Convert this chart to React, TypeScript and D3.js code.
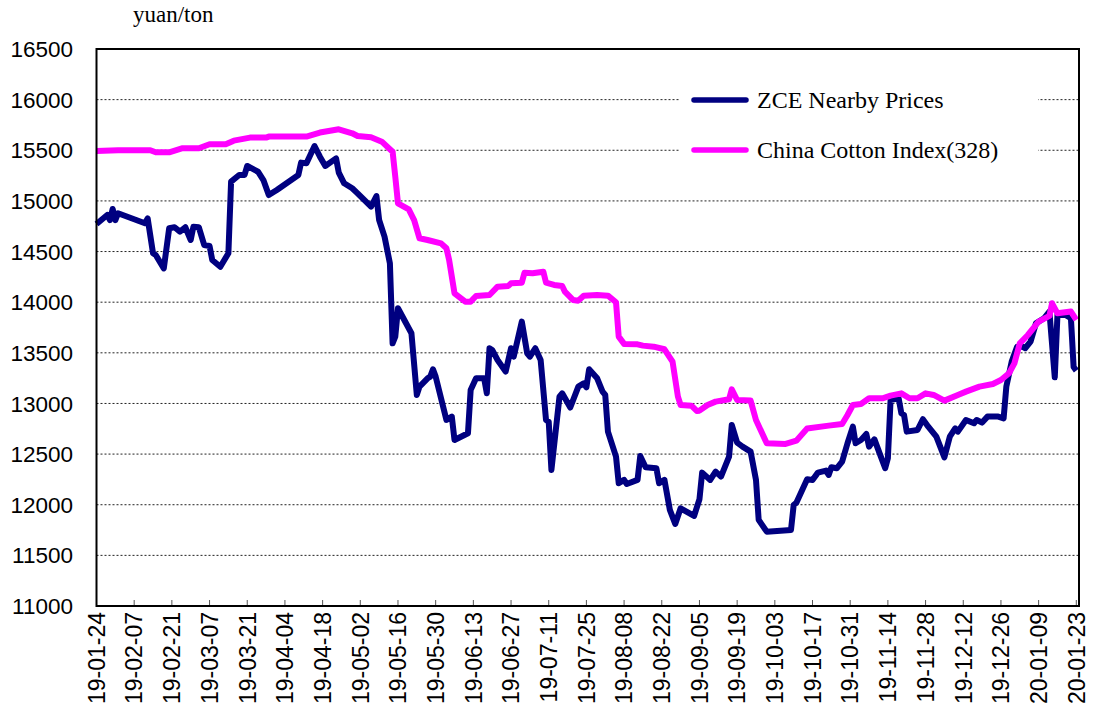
import React, { useEffect, useRef } from 'react';
import * as d3 from 'd3';

// ZCE nearby contract prices (yuan/ton)
const zceDates = [
  '2019-01-24', '2019-01-28', '2019-01-29', '2019-01-30', '2019-01-31', '2019-02-01', '2019-02-11', '2019-02-12',
  '2019-02-14', '2019-02-15', '2019-02-18', '2019-02-20', '2019-02-22', '2019-02-24', '2019-02-26', '2019-02-28',
  '2019-03-01', '2019-03-03', '2019-03-05', '2019-03-07', '2019-03-08', '2019-03-11', '2019-03-14', '2019-03-15',
  '2019-03-18', '2019-03-20', '2019-03-21', '2019-03-25', '2019-03-27', '2019-03-29', '2019-04-01', '2019-04-09',
  '2019-04-10', '2019-04-12', '2019-04-15', '2019-04-17', '2019-04-19', '2019-04-23', '2019-04-24', '2019-04-26',
  '2019-04-29', '2019-05-01', '2019-05-06', '2019-05-08', '2019-05-09', '2019-05-11', '2019-05-13', '2019-05-14',
  '2019-05-15', '2019-05-16', '2019-05-19', '2019-05-21', '2019-05-23', '2019-05-24', '2019-05-27', '2019-05-28',
  '2019-05-29', '2019-05-30', '2019-06-03', '2019-06-05', '2019-06-06', '2019-06-11', '2019-06-12', '2019-06-14',
  '2019-06-17', '2019-06-18', '2019-06-19', '2019-06-20', '2019-06-22', '2019-06-25', '2019-06-27', '2019-06-28',
  '2019-07-01', '2019-07-03', '2019-07-04', '2019-07-06', '2019-07-08', '2019-07-10', '2019-07-11', '2019-07-12',
  '2019-07-15', '2019-07-16', '2019-07-19', '2019-07-22', '2019-07-24', '2019-07-25', '2019-07-26', '2019-07-29',
  '2019-07-31', '2019-08-01', '2019-08-02', '2019-08-05', '2019-08-06', '2019-08-08', '2019-08-09', '2019-08-13',
  '2019-08-14', '2019-08-16', '2019-08-20', '2019-08-21', '2019-08-23', '2019-08-25', '2019-08-27', '2019-08-29',
  '2019-09-03', '2019-09-05', '2019-09-06', '2019-09-09', '2019-09-11', '2019-09-13', '2019-09-16', '2019-09-17',
  '2019-09-19', '2019-09-21', '2019-09-24', '2019-09-26', '2019-09-27', '2019-09-30', '2019-10-09', '2019-10-10',
  '2019-10-11', '2019-10-15', '2019-10-17', '2019-10-19', '2019-10-22', '2019-10-23', '2019-10-24', '2019-10-26',
  '2019-10-28', '2019-10-30', '2019-11-01', '2019-11-02', '2019-11-04', '2019-11-06', '2019-11-07', '2019-11-09',
  '2019-11-10', '2019-11-13', '2019-11-14', '2019-11-15', '2019-11-18', '2019-11-19', '2019-11-20', '2019-11-21',
  '2019-11-25', '2019-11-27', '2019-11-29', '2019-12-02', '2019-12-05', '2019-12-07', '2019-12-09', '2019-12-10',
  '2019-12-13', '2019-12-16', '2019-12-17', '2019-12-19', '2019-12-21', '2019-12-25', '2019-12-27', '2019-12-28',
  '2019-12-30', '2020-01-01', '2020-01-03', '2020-01-04', '2020-01-06', '2020-01-08', '2020-01-11', '2020-01-13',
  '2020-01-15', '2020-01-16', '2020-01-19', '2020-01-21', '2020-01-22', '2020-01-23',
];
const zcePrices = [
  14772, 14861, 14810, 14920, 14810, 14878, 14779, 14828,
  14483, 14466, 14334, 14730, 14740, 14697, 14740, 14614,
  14745, 14740, 14565, 14555, 14417, 14350, 14483, 15190,
  15256, 15256, 15345, 15288, 15206, 15058, 15108, 15256,
  15378, 15371, 15542, 15437, 15345, 15420, 15280, 15174,
  15125, 15075, 14943, 15048, 14811, 14647, 14384, 13594,
  13660, 13940, 13792, 13693, 13084, 13166, 13248, 13265,
  13337, 13265, 12837, 12870, 12639, 12706, 13133, 13248,
  13248, 13100, 13545, 13528, 13429, 13314, 13545, 13462,
  13808, 13495, 13462, 13545, 13429, 12837, 12820, 12344,
  13067, 13100, 12960, 13166, 13199, 13160, 13337, 13248,
  13117, 13084, 12722, 12475, 12212, 12245, 12205, 12245,
  12481, 12370, 12360, 12212, 12245, 11949, 11810, 11965,
  11889, 12054, 12317, 12245, 12327, 12278, 12475, 12788,
  12613, 12574, 12524, 12245, 11850, 11734, 11750, 11997,
  12020, 12251, 12245, 12317, 12337, 12294, 12370, 12360,
  12426, 12607, 12771, 12607, 12639, 12698, 12574, 12646,
  12574, 12360, 12459, 13034, 13051, 12903, 12886, 12722,
  12738, 12844, 12771, 12672, 12468, 12672, 12754, 12722,
  12837, 12804, 12837, 12811, 12870, 12870, 12853, 13166,
  13413, 13561, 13561, 13545, 13610, 13791, 13841, 13907,
  13258, 13874, 13874, 13841, 13360, 13324,
];

// China Cotton Index (328), yuan/ton
const cciDates = [
  '2019-01-24', '2019-02-01', '2019-02-13', '2019-02-15', '2019-02-20', '2019-02-25', '2019-03-03', '2019-03-07',
  '2019-03-13', '2019-03-16', '2019-03-22', '2019-03-28', '2019-03-29', '2019-04-12', '2019-04-17', '2019-04-24',
  '2019-04-29', '2019-05-01', '2019-05-06', '2019-05-10', '2019-05-14', '2019-05-15', '2019-05-16', '2019-05-20',
  '2019-05-22', '2019-05-24', '2019-05-27', '2019-06-01', '2019-06-03', '2019-06-04', '2019-06-06', '2019-06-10',
  '2019-06-12', '2019-06-14', '2019-06-19', '2019-06-22', '2019-06-26', '2019-06-27', '2019-07-01', '2019-07-02',
  '2019-07-05', '2019-07-09', '2019-07-10', '2019-07-13', '2019-07-16', '2019-07-17', '2019-07-20', '2019-07-22',
  '2019-07-24', '2019-07-29', '2019-08-02', '2019-08-05', '2019-08-06', '2019-08-08', '2019-08-13', '2019-08-15',
  '2019-08-19', '2019-08-23', '2019-08-26', '2019-08-28', '2019-08-29', '2019-09-02', '2019-09-04', '2019-09-05',
  '2019-09-08', '2019-09-11', '2019-09-16', '2019-09-17', '2019-09-19', '2019-09-24', '2019-09-26', '2019-09-30',
  '2019-10-07', '2019-10-11', '2019-10-15', '2019-10-23', '2019-10-28', '2019-10-30', '2019-11-01', '2019-11-04',
  '2019-11-07', '2019-11-12', '2019-11-15', '2019-11-19', '2019-11-22', '2019-11-25', '2019-11-28', '2019-12-01',
  '2019-12-05', '2019-12-10', '2019-12-13', '2019-12-18', '2019-12-23', '2019-12-26', '2019-12-29', '2019-12-31',
  '2020-01-02', '2020-01-05', '2020-01-09', '2020-01-13', '2020-01-14', '2020-01-16', '2020-01-21', '2020-01-23',
];
const cciPrices = [
  15493, 15500, 15500, 15480, 15480, 15520, 15520, 15560,
  15560, 15595, 15625, 15625, 15635, 15635, 15675, 15707,
  15668, 15641, 15628, 15585, 15486, 15239, 14976, 14917,
  14811, 14631, 14614, 14581, 14532, 14417, 14088, 14005,
  14005, 14061, 14071, 14153, 14160, 14186, 14193, 14291,
  14285, 14301, 14193, 14170, 14160, 14104, 14022, 14015,
  14064, 14071, 14064, 13999, 13660, 13588, 13584, 13571,
  13561, 13535, 13413, 13067, 12985, 12978, 12926, 12929,
  12985, 13018, 13041, 13140, 13034, 13028, 12837, 12607,
  12600, 12632, 12752, 12781, 12797, 12886, 12985, 12995,
  13051, 13051, 13077, 13100, 13051, 13051, 13100, 13084,
  13028, 13084, 13117, 13166, 13192, 13232, 13298, 13396,
  13594, 13676, 13808, 13864, 13989, 13890, 13907, 13825,
];

const dateTicks = [
  '19-01-24', '19-02-07', '19-02-21', '19-03-07', '19-03-21', '19-04-04', '19-04-18', '19-05-02', '19-05-16',
  '19-05-30', '19-06-13', '19-06-27', '19-07-11', '19-07-25', '19-08-08', '19-08-22', '19-09-05', '19-09-19',
  '19-10-03', '19-10-17', '19-10-31', '19-11-14', '19-11-28', '19-12-12', '19-12-26', '20-01-09', '20-01-23',
];
const priceTicks = [11000, 11500, 12000, 12500, 13000, 13500, 14000, 14500, 15000, 15500, 16000, 16500];

const seriesNames = ['ZCE Nearby Prices', 'China Cotton Index(328)'];
const seriesColors = ['#000080', '#FF00FF'];

const App = () => {
  const svgRef = useRef(null);

  useEffect(() => {
    if (!svgRef.current) return;
    const svg = d3.select(svgRef.current);
    svg.selectAll('*').remove();

    const parseFull = d3.timeParse('%Y-%m-%d');
    const parseShort = d3.timeParse('%y-%m-%d');

    const left = 96.5, right = 1079, top = 49, bottom = 606;

    const x = d3.scaleTime()
      .domain([parseFull('2019-01-24'), parseFull('2020-01-24')])
      .range([left, right]);
    const y = d3.scaleLinear().domain([11000, 16500]).range([bottom, top]);

    const sans = "'Liberation Sans', Arial, sans-serif";
    const serif = "'Liberation Serif', 'Times New Roman', serif";

    // gridlines
    svg.append('g')
      .selectAll('line')
      .data(priceTicks.filter(v => v > 11000 && v < 16500))
      .enter().append('line')
      .attr('x1', left).attr('x2', right)
      .attr('y1', d => y(d)).attr('y2', d => y(d))
      .attr('stroke', '#222')
      .attr('stroke-width', 1)
      .attr('stroke-dasharray', '2,2');

    // y labels
    svg.append('g')
      .selectAll('text')
      .data(priceTicks)
      .enter().append('text')
      .attr('x', 73)
      .attr('y', d => y(d))
      .attr('dy', '0.36em')
      .attr('text-anchor', 'end')
      .attr('font-family', sans)
      .attr('font-size', '22.5px')
      .attr('fill', '#000')
      .text(d => d);

    // x ticks (inside) and rotated labels
    const tickDates = dateTicks.map(t => parseShort(t));
    svg.append('g')
      .selectAll('line')
      .data(tickDates)
      .enter().append('line')
      .attr('x1', d => x(d)).attr('x2', d => x(d))
      .attr('y1', bottom).attr('y2', bottom - 6)
      .attr('stroke', '#555')
      .attr('stroke-width', 1);

    svg.append('g')
      .selectAll('text')
      .data(dateTicks)
      .enter().append('text')
      .attr('transform', d => `translate(${x(parseShort(d))},${bottom + 6}) rotate(-90)`)
      .attr('dy', '0.36em')
      .attr('text-anchor', 'end')
      .attr('font-family', sans)
      .attr('font-size', '23px')
      .attr('fill', '#000')
      .text(d => d);

    // lines
    const line = d3.line()
      .x(d => x(d.date))
      .y(d => y(d.v));

    const zce = zceDates.map((d, i) => ({ date: parseFull(d), v: zcePrices[i] }));
    const cci = cciDates.map((d, i) => ({ date: parseFull(d), v: cciPrices[i] }));

    [zce, cci].forEach((data, i) => {
      svg.append('path')
        .datum(data)
        .attr('d', line)
        .attr('fill', 'none')
        .attr('stroke', seriesColors[i])
        .attr('stroke-width', 6)
        .attr('stroke-linejoin', 'round');
    });

    // frame
    svg.append('path')
      .attr('d', `M${left},${top}H${right}V${bottom}H${left}Z`)
      .attr('fill', 'none')
      .attr('stroke', '#000')
      .attr('stroke-width', 2);

    // legend
    const legend = svg.append('g');
    legend.append('rect')
      .attr('x', 680).attr('y', 72).attr('width', 358).attr('height', 106)
      .attr('fill', '#fff');
    seriesNames.forEach((name, i) => {
      const ly = 100 + i * 50;
      legend.append('line')
        .attr('x1', 694).attr('x2', 746)
        .attr('y1', ly).attr('y2', ly)
        .attr('stroke', seriesColors[i])
        .attr('stroke-width', 5.5)
        .attr('stroke-linecap', 'round');
      legend.append('text')
        .attr('x', 757).attr('y', ly + 8)
        .attr('font-family', serif)
        .attr('font-size', '24px')
        .attr('fill', '#000')
        .text(name);
    });

    // unit label
    svg.append('text')
      .attr('x', 133).attr('y', 22)
      .attr('font-family', serif)
      .attr('font-size', '23px')
      .attr('fill', '#000')
      .text('yuan/ton');
  }, []);

  return (
    <svg ref={svgRef} width="1094" height="715"
      style={{ position: 'absolute', left: 0, top: 0, background: '#fff' }}></svg>
  );
};

export default App;
